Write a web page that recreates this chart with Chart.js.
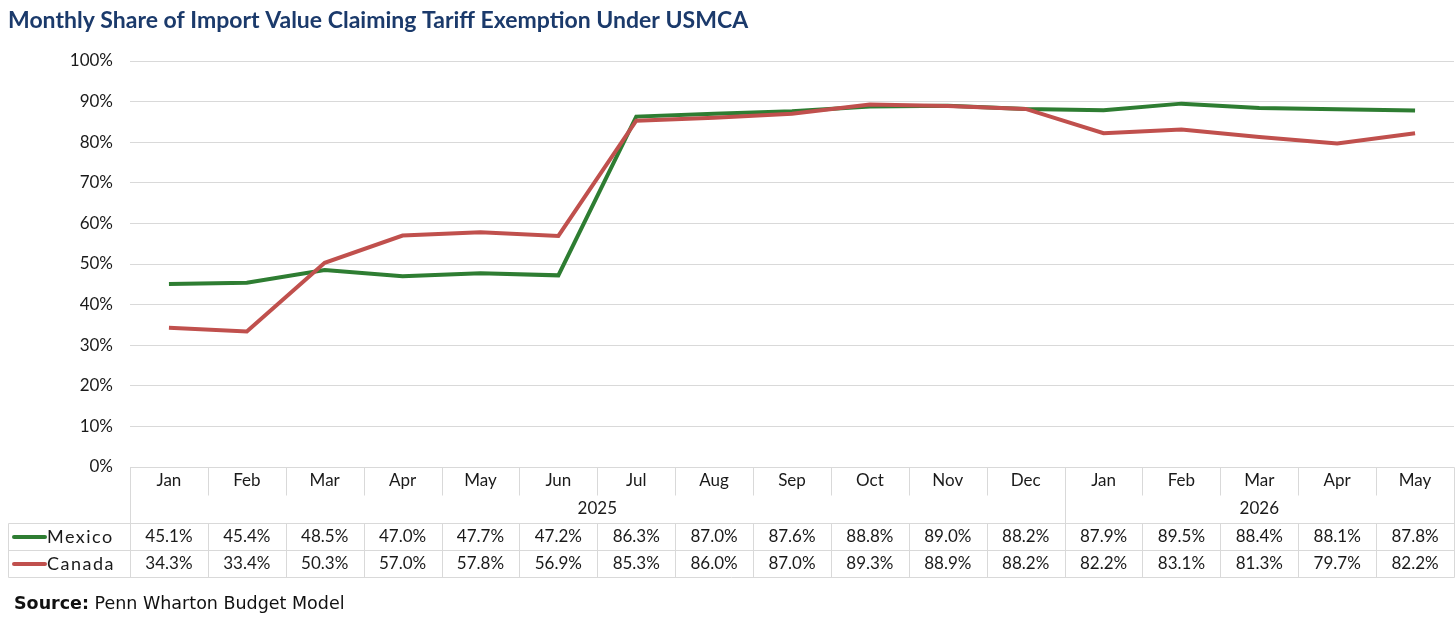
<!DOCTYPE html>
<html>
<head>
<meta charset="utf-8">
<script src="https://cdn.jsdelivr.net/npm/chart.js@4"></script>
<style>
html,body{margin:0;padding:0;background:#fff;}
#wrap{width:1456px;height:625px;position:relative;}
</style>
</head>
<body>
<div id="wrap"><canvas id="c"></canvas></div>
<script>
const titleText = "Monthly Share of Import Value Claiming Tariff Exemption Under USMCA";
const sourceLabel = "Source:";
const sourceText = " Penn Wharton Budget Model";
const months = ["Jan","Feb","Mar","Apr","May","Jun","Jul","Aug","Sep","Oct","Nov","Dec","Jan","Feb","Mar","Apr","May"];
const years = ["2025","2025","2025","2025","2025","2025","2025","2025","2025","2025","2025","2025","2026","2026","2026","2026","2026"];
const mexico = [45.1,45.4,48.5,47.0,47.7,47.2,86.3,87.0,87.6,88.8,89.0,88.2,87.9,89.5,88.4,88.1,87.8];
const canada = [34.3,33.4,50.3,57.0,57.8,56.9,85.3,86.0,87.0,89.3,88.9,88.2,82.2,83.1,81.3,79.7,82.2];
const yTicks = [0,10,20,30,40,50,60,70,80,90,100];

const FONT = "Lato, 'Noto Sans', sans-serif";
const GREEN = "#2E7D32";
const RED = "#C0504D";
const GRID = "#d9d9d9";

const tablePlugin = {
  id: 'tablePlugin',
  afterDraw(chart) {
    const ctx = chart.ctx;
    const xs = chart.scales.x;
    const a = chart.chartArea;
    const n = months.length;
    const colW = (a.right - a.left) / n;
    const edge = i => (i < n ? xs.getPixelForValue(i) - colW / 2 : xs.getPixelForValue(n - 1) + colW / 2);
    const top = a.bottom;
    const yearTop = top + 28;
    const rowTop = top + 56;
    const rowH = 27;
    const tableLeft = 8;
    const right = edge(n);
    ctx.save();
    ctx.strokeStyle = GRID;
    ctx.lineWidth = 1;
    const line = (x1, y1, x2, y2) => { ctx.beginPath(); ctx.moveTo(Math.round(x1)+0.5, Math.round(y1)+0.5); ctx.lineTo(Math.round(x2)+0.5, Math.round(y2)+0.5); ctx.stroke(); };
    line(edge(0), top, right, top);
    line(tableLeft, rowTop, right, rowTop);
    line(tableLeft, rowTop + rowH, right, rowTop + rowH);
    line(tableLeft, rowTop + 2 * rowH, right, rowTop + 2 * rowH);
    line(tableLeft, rowTop, tableLeft, rowTop + 2 * rowH);
    for (let i = 0; i <= n; i++) {
      const x = edge(i);
      const groupBoundary = i === 0 || i === n || years[i] !== years[i - 1];
      line(x, top, x, groupBoundary ? rowTop + 2 * rowH : yearTop);
      if (!groupBoundary) line(x, rowTop, x, rowTop + 2 * rowH);
    }
    ctx.fillStyle = "#1a1a1a";
    ctx.font = "17px " + FONT;
    ctx.textAlign = "center";
    ctx.textBaseline = "middle";
    for (let i = 0; i < n; i++) {
      ctx.fillText(months[i], xs.getPixelForValue(i), top + 14);
    }
    let start = 0;
    for (let i = 1; i <= n; i++) {
      if (i === n || years[i] !== years[start]) {
        ctx.fillText(years[start], (edge(start) + edge(i)) / 2, yearTop + 14);
        start = i;
      }
    }
    const series = [[chart.data.datasets[0], mexico], [chart.data.datasets[1], canada]];
    series.forEach(([ds, vals], r) => {
      const cy = rowTop + rowH * r + rowH / 2 + 0.5;
      ctx.strokeStyle = ds.borderColor;
      ctx.lineWidth = 4;
      ctx.lineCap = "round";
      ctx.beginPath(); ctx.moveTo(14, cy); ctx.lineTo(45, cy); ctx.stroke();
      ctx.textAlign = "left";
      ctx.fillStyle = "#1a1a1a";
      ctx.font = "18px " + FONT;
      ctx.letterSpacing = "1.5px";
      ctx.fillText(ds.label, 47, cy);
      ctx.letterSpacing = "0px";
      ctx.font = "17px " + FONT;
      ctx.textAlign = "center";
      vals.forEach((v, i) => ctx.fillText(v.toFixed(1) + "%", xs.getPixelForValue(i), cy));
    });
    ctx.textAlign = "left";
    ctx.fillStyle = "#1B3A6B";
    ctx.font = "bold 23px " + FONT;
    ctx.fillText(titleText, 8, 21);
    ctx.fillStyle = "#111";
    ctx.font = "bold 17.5px 'DejaVu Sans', sans-serif";
    ctx.fillText(sourceLabel, 14, 604);
    const w = ctx.measureText(sourceLabel).width;
    ctx.font = "17.5px 'DejaVu Sans', sans-serif";
    ctx.fillText(sourceText, 14 + w, 604);
    ctx.restore();
  }
};

new Chart(document.getElementById('c'), {
  type: 'line',
  data: {
    labels: months.map((m, i) => m + " " + years[i]),
    datasets: [
      { label: "Mexico", data: mexico, borderColor: GREEN, backgroundColor: GREEN, borderWidth: 4, pointRadius: 0, tension: 0, order: 2 },
      { label: "Canada", data: canada, borderColor: RED, backgroundColor: RED, borderWidth: 4, pointRadius: 0, tension: 0, order: 1 }
    ]
  },
  options: {
    responsive: true,
    maintainAspectRatio: false,
    animation: false,
    layout: { padding: { left: 0, right: 2, top: 61, bottom: 158 } },
    plugins: { legend: { display: false }, title: { display: false }, tooltip: { enabled: false } },
    scales: {
      x: { type: 'category', offset: true, display: false },
      y: {
        min: 0, max: 100,
        afterFit(s) { s.width = 130; },
        afterBuildTicks(s) { s.ticks = yTicks.map(v => ({ value: v })); },
        ticks: { callback: v => v + "%", padding: 17, color: "#1a1a1a", font: { family: FONT, size: 17 } },
        grid: { color: GRID, lineWidth: 1, drawTicks: false },
        border: { display: false }
      }
    }
  },
  plugins: [tablePlugin]
});
</script>
</body>
</html>
